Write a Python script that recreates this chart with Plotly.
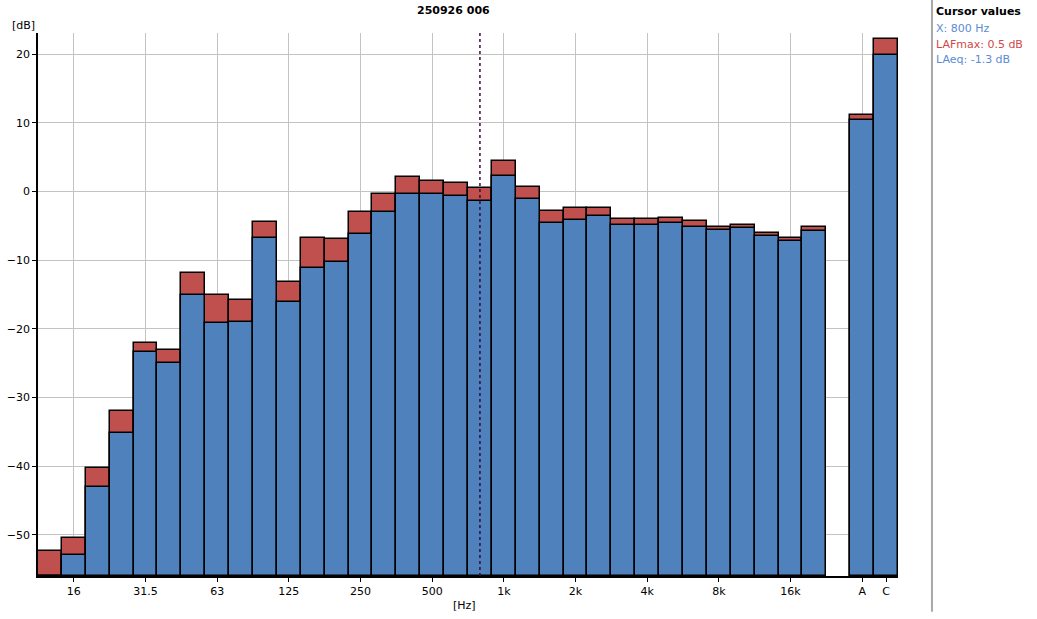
import plotly.graph_objects as go

# ---- data ----
BANDS = ["12.5", "16", "20", "25", "31.5", "40", "50", "63", "80", "100",
         "125", "160", "200", "250", "315", "400", "500", "630", "800", "1k",
         "1.25k", "1.6k", "2k", "2.5k", "3.15k", "4k", "5k", "6.3k", "8k", "10k",
         "12.5k", "16k", "20k"]
LAFMAX = [-52.3, -50.4, -40.2, -32.0, -22.0, -23.1, -11.8, -15.0, -15.8, -4.5,
          -13.1, -6.8, -6.95, -3.0, -0.4, 2.1, 1.6, 1.2, 0.5, 4.4,
          0.6, -2.9, -2.4, -2.4, -4.0, -4.0, -3.9, -4.3, -5.1, -4.8,
          -6.1, -6.8, -5.2]
LAEQ = [-57.0, -53.0, -43.1, -35.1, -23.4, -25.0, -15.1, -19.2, -19.0, -6.7,
        -16.1, -11.2, -10.3, -6.2, -3.0, -0.4, -0.4, -0.7, -1.3, 2.2,
        -1.1, -4.6, -4.2, -3.6, -4.9, -4.8, -4.6, -5.1, -5.6, -5.3,
        -6.5, -7.2, -5.8]
TOTALS = ["A", "C"]
LAFMAX_TOT = [11.2, 22.2]
LAEQ_TOT = [10.4, 19.9]
TICK_LABELS = ["16", "31.5", "63", "125", "250", "500", "1k", "2k", "4k", "8k", "16k", "A", "C"]
Y_TICKS = [-50, -40, -30, -20, -10, 0, 10, 20]
Y_MIN, Y_MAX = -56.0, 23.1
CURSOR_BAND = "800"
TITLE = "250926 006"

# ---- styling ----
BLUE = "#4f81bd"
RED = "#c0504d"
GRID = "#c3c3c3"
FONT = "DejaVu Sans"

cats = BANDS + TOTALS
xpos = list(range(len(BANDS))) + [len(BANDS) + 1 + i for i in range(len(TOTALS))]
pos_of = dict(zip(cats, xpos))
fmax = LAFMAX + LAFMAX_TOT
feq = LAEQ + LAEQ_TOT

fig = go.Figure()
fig.add_trace(go.Bar(
    x=xpos, y=[v - Y_MIN for v in fmax], base=Y_MIN, width=1,
    marker=dict(color=RED, line=dict(color="black", width=1.5)),
    name="LAFmax", showlegend=False, hoverinfo="skip"))
fig.add_trace(go.Bar(
    x=xpos, y=[v - Y_MIN for v in feq], base=Y_MIN, width=1,
    marker=dict(color=BLUE, line=dict(color="black", width=1.5)),
    name="LAeq", showlegend=False, hoverinfo="skip"))

tickvals = [pos_of[t] for t in TICK_LABELS]
gridvals = [pos_of[t] for t in TICK_LABELS if t != "C"]

fig.update_layout(
    width=1037, height=619,
    margin=dict(l=38, r=139, t=33, b=43, autoexpand=False),
    paper_bgcolor="white", plot_bgcolor="white",
    barmode="overlay", bargap=0,
    font=dict(family=FONT, size=11, color="black"),
    showlegend=False,
)
fig.update_xaxes(
    range=[-0.5, xpos[-1] + 0.5], automargin=False,
    tickmode="array", tickvals=tickvals, ticktext=TICK_LABELS,
    showgrid=False, zeroline=False,
    showline=True, linecolor="black", linewidth=2,
    ticks="outside", ticklen=4, tickcolor="black", tickwidth=1,
    tickfont=dict(family=FONT, size=11, color="black"),
    minor=dict(tickmode="array", tickvals=gridvals, showgrid=True,
               gridcolor=GRID, gridwidth=1, ticks=""),
)
fig.update_yaxes(
    range=[Y_MIN, Y_MAX], automargin=False,
    tickmode="array", tickvals=Y_TICKS,
    showgrid=True, gridcolor=GRID, gridwidth=1, zeroline=False,
    showline=True, linecolor="black", linewidth=1.5,
    ticks="outside", ticklen=4, tickcolor="black", tickwidth=1,
    tickfont=dict(family=FONT, size=11, color="black"),
)

# cursor line
cx = pos_of[CURSOR_BAND]
fig.add_shape(type="line", xref="x", yref="paper", x0=cx, x1=cx, y0=0, y1=1,
              line=dict(color="#3a0a3a", width=1.5, dash="3px,3px"), layer="above")

# divider line of the side panel
fig.add_shape(type="line", xref="paper", yref="paper", x0=1.0395, x1=1.0395,
              y0=-0.066, y1=1.061, line=dict(color="#a8a8a8", width=2))

ann = [
    dict(text="<b>" + TITLE + "</b>", x=0.4837, y=1.042, xanchor="center", yanchor="middle",
         font=dict(size=11, color="black")),
    dict(text="[dB]", x=-0.033, y=1.013, xanchor="left", yanchor="middle",
         font=dict(size=11, color="black")),
    dict(text="[Hz]", x=0.4965, y=-0.054, xanchor="center", yanchor="middle",
         font=dict(size=11, color="black")),
    dict(text="<b>Cursor values</b>", x=1.042, y=1.0387, xanchor="left", yanchor="middle",
         font=dict(size=11, color="black")),
    dict(text="X: %s Hz" % CURSOR_BAND, x=1.042, y=1.0092, xanchor="left", yanchor="middle",
         font=dict(size=11, color="#5b8bd4")),
    dict(text="LAFmax: %.1f dB" % LAFMAX[BANDS.index(CURSOR_BAND)], x=1.042, y=0.9797,
         xanchor="left", yanchor="middle", font=dict(size=11, color="#d04848")),
    dict(text="LAeq: %.1f dB" % LAEQ[BANDS.index(CURSOR_BAND)], x=1.042, y=0.9503,
         xanchor="left", yanchor="middle", font=dict(size=11, color="#5b8bd4")),
]
for a in ann:
    fig.add_annotation(xref="paper", yref="paper", showarrow=False, **a)

fig.write_html("out.html", config={"displayModeBar": False},
               post_script="document.body.style.margin='0';document.body.style.overflow='hidden';")
